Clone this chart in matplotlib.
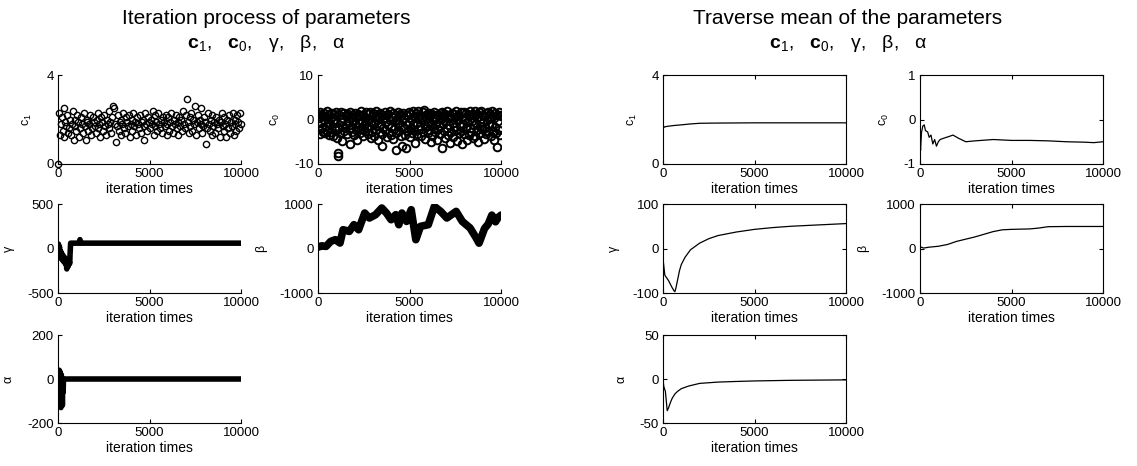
import numpy as np
import matplotlib
matplotlib.use("Agg")
import matplotlib.pyplot as plt

plt.rcParams['font.family'] = ['Liberation Sans', 'DejaVu Sans']
plt.rcParams['mathtext.fontset'] = 'custom'
plt.rcParams['mathtext.rm'] = 'Liberation Sans'
plt.rcParams['mathtext.it'] = 'Liberation Sans:italic'
plt.rcParams['mathtext.bf'] = 'Liberation Sans:bold'
plt.rcParams['axes.unicode_minus'] = False

# ---- iteration process (samples) ----
c1_samples = [
    0.0, 2.3, 1.3, 1.8, 2.1, 1.5, 2.5, 1.2, 1.9, 1.7, 2.2, 1.4, 1.6, 2.0, 1.3, 1.8, 2.4, 1.1, 1.7, 2.0,
    1.5, 2.2, 1.9, 1.2, 1.6, 2.1, 1.8, 1.4, 2.3, 1.7, 1.1, 1.9, 2.0, 1.5, 1.8, 2.2, 1.3, 1.6, 2.1, 1.9,
    1.7, 1.4, 2.0, 2.3, 1.6, 1.8, 1.2, 2.1, 1.9, 1.5, 2.2, 1.7, 1.3, 2.0, 1.8, 2.4, 1.6, 1.9, 1.4, 2.1,
    2.6, 2.5, 1.8, 1.0, 1.7, 2.2, 1.5, 1.9, 2.0, 1.3, 1.8, 2.3, 1.6, 1.4, 2.1, 1.9, 1.7, 2.2, 1.2, 1.8,
    2.0, 1.5, 2.3, 1.7, 1.9, 1.3, 2.1, 1.8, 1.6, 2.2, 1.4, 1.9, 2.0, 1.7, 1.1, 2.3, 1.8, 1.5, 2.1, 1.9,
    1.6, 2.0, 1.8, 2.4, 1.3, 1.7, 2.2, 1.9, 1.5, 2.3, 1.8, 1.6, 2.0, 1.4, 2.1, 1.9, 1.7, 2.2, 1.3, 1.8,
    2.1, 1.5, 1.9, 2.3, 1.7, 1.4, 2.0, 1.8, 2.2, 1.6, 1.9, 1.3, 2.1, 1.7, 2.0, 1.5, 2.4, 1.8, 1.6, 2.2,
    2.9, 1.9, 1.4, 2.1, 1.7, 2.3, 1.5, 2.0, 1.8, 2.6, 1.3, 1.9, 2.2, 1.6, 2.0, 1.8, 2.5, 1.4, 1.7, 2.1,
    1.9, 0.9, 1.6, 2.3, 1.8, 1.5, 2.0, 1.3, 2.2, 1.7, 1.9, 1.4, 2.1, 1.8, 1.6, 2.0, 1.2, 1.9, 2.3, 1.7,
    1.5, 2.1, 1.8, 1.2, 2.0, 1.6, 2.2, 1.4, 1.9, 1.7, 2.3, 1.3, 1.8, 2.0, 1.5, 2.2, 1.9, 1.6, 2.3, 1.8,
]

c0_samples = [
    1.2, -2.1, 0.4, -3.3, 1.6, -0.8, -1.9, 0.9, -2.7, 1.4, -0.2, -3.0, 0.7, -1.4, 1.8, -2.5, -0.5, 1.1, -3.4, 0.2,
    -1.1, 1.5, -2.8, 0.6, -0.3, -3.6, 1.3, -1.7, 0.0, -2.3, 1.7, -4.2, -7.6, -8.3, -2.0, 1.0, -3.1, -0.6, 1.6, -1.5,
    -4.8, 0.3, -2.6, 1.4, -2.0, -1.2, 0.9, 0.8, -3.2, 1.2, -0.4, -2.2, 1.7, -5.6, -1.8, 0.5, -2.9, 1.1, -0.1, -3.5,
    1.5, -1.0, -2.4, 0.6, -4.5, 1.3, -1.6, -0.7, 0.9, -3.0, 1.8, -2.1, -0.3, 1.0, -3.8, -1.3, 0.4, -2.6, 1.6, -0.8,
    -2.0, 1.2, -3.3, 0.1, -1.5, 1.7, -4.1, -0.5, 0.8, -2.7, 1.4, -1.1, -3.6, 0.5, 1.9, -2.3, -0.2, 1.0, -4.6, -1.4,
    0.7, -2.9, 1.5, -0.9, -6.0, -3.2, 1.1, -1.8, 0.3, -2.4, 1.6, -0.6, -3.9, 0.9, -1.2, 1.3, -2.8, -0.1, 1.8, -3.5,
    -1.7, 0.6, -4.3, 1.4, -2.2, -0.4, 1.0, -3.1, -6.8, 0.2, -1.0, 1.7, -2.5, -0.7, 1.2, -3.7, 0.8, -1.6, -5.9, 1.5,
    -2.0, 0.4, -3.4, 1.1, -6.4, -1.3, 0.9, -2.6, 1.6, -0.5, -4.0, 1.3, -1.9, 0.1, -3.0, 1.8, -1.1, -2.3, 0.7, -5.3,
    1.4, -0.8, -3.3, 0.5, 1.9, -2.1, -1.4, 1.0, -3.8, 0.3, -0.2, 1.6, -2.7, -1.0, 2.2, -4.4, 0.6, -1.7, 1.2, -3.1,
    -0.6, 1.5, -2.4, 0.8, -5.0, -1.2, 1.3, -3.6, 0.0, -1.9, 1.7, -2.9, 0.4, -0.9, 1.1, -4.7, -2.2, 0.9, -1.5, 1.4,
    -3.2, 0.2, 1.6, -6.3, -1.1, 0.7, -2.6, 1.2, -4.2, -0.4, 1.8, -2.0, 0.5, -3.5, -1.3, 1.0, -5.2, 0.3, -2.8, 1.5,
    -0.7, -3.9, 1.3, -1.6, 0.6, -2.3, 1.9, -4.9, -0.2, 1.1, -3.0, 0.8, -1.4, 1.6, -2.5, -5.4, 0.4, -1.0, 1.7, -3.3,
    0.1, -2.0, 1.4, -4.5, -0.5, 1.0, -3.4, 0.7, -1.8, 2.0, -2.7, -0.3, 1.3, -4.1, 0.9, -1.2, 1.8, -3.7, -0.8, 1.2,
    -2.4, 0.5, -5.1, 1.6, -1.5, -3.0, 0.2, 1.9, -2.2, -0.6, 1.1, -4.3, 0.8, -1.9, 1.5, -3.2, -0.1, 1.7, -2.6, 0.4,
    -1.3, 1.2, -3.6, 0.6, -0.9, 1.8, -2.8, -4.6, 0.3, 1.4, -1.7, -3.1, 0.9, -6.2, -0.4, 1.6, -2.3, 1.0, -3.5, 0.7,
]

gamma_iter = [0, 25, 50, 80, 110, 140, 170, 200, 240, 280, 320, 360, 400, 440, 480, 520, 560, 600, 640, 660, 690,
              1150, 1200, 1250, 1300, 10000]
gamma_vals = [0, 50, -60, 20, -90, -30, -110, -50, -130, -80, -150, -100, -170, -140, -230, -160, -200, -130, -170,
              -60, 60, 60, 100, 60, 60, 60]

beta_iter = [0, 200, 440, 695, 949, 1203, 1371, 1710, 1964, 2218, 2553, 2807, 3147, 3486, 3740, 3994, 4248, 4416,
             4585, 4838, 5092, 5346, 5600, 6025, 6360, 6701, 7041, 7548, 7883, 8310, 8645, 8800, 9100, 9300, 9500,
             9700, 9850, 10000]
beta_vals = [30, 60, 47, 160, 198, 123, 422, 384, 535, 422, 797, 685, 760, 910, 797, 647, 760, 535,
             797, 609, 872, 198, 497, 535, 946, 834, 685, 834, 609, 461, 236, 120, 450, 550, 750,
             600, 700, 750]

alpha_iter = [0, 20, 40, 60, 80, 100, 120, 140, 160, 180, 200, 220, 240, 260, 280, 300, 10000]
alpha_vals = [0, 30, -50, 40, -20, 35, -90, 10, -130, 20, -110, -40, -120, -10, -60, 0, 0]

# ---- traverse (running) means ----
c1m_iter = [0, 50, 150, 300, 600, 1000, 1500, 2000, 3000, 5000, 7000, 10000]
c1m_vals = [1.8, 1.65, 1.68, 1.7, 1.73, 1.76, 1.8, 1.83, 1.84, 1.85, 1.85, 1.85]

c0m_iter = [0, 30, 80, 150, 230, 300, 420, 500, 600, 700, 800, 900, 1000, 1100, 1300, 1600, 1800, 2100, 2500,
            3000, 4000, 5000, 6000, 7000, 8000, 9000, 9500, 10000]
c0m_vals = [-0.45, -0.7, -0.3, -0.15, -0.12, -0.25, -0.28, -0.4, -0.35, -0.55, -0.45, -0.6, -0.5, -0.45, -0.42,
            -0.38, -0.35, -0.42, -0.5, -0.48, -0.45, -0.47, -0.47, -0.48, -0.5, -0.51, -0.52, -0.5]

gm_iter = [0, 20, 100, 200, 300, 400, 500, 600, 650, 700, 800, 900, 1000, 1200, 1500, 2000, 2500, 3000, 3500,
           4000, 5000, 6000, 7000, 8000, 9000, 10000]
gm_vals = [0, -30, -60, -66, -72, -80, -88, -95, -97, -90, -70, -50, -36, -20, -3, 12, 22, 29, 33, 37, 43, 47,
           50, 52, 54, 56]

bm_iter = [0, 200, 500, 1000, 1500, 2000, 2500, 3000, 3500, 4000, 4500, 5000, 6000, 6500, 7000, 8000, 9000, 10000]
bm_vals = [40, 10, 30, 50, 90, 160, 210, 260, 320, 380, 420, 430, 440, 460, 490, 495, 495, 495]

am_iter = [0, 40, 80, 130, 180, 230, 300, 400, 500, 650, 800, 1000, 1400, 2000, 3000, 4000, 5000, 7000, 10000]
am_vals = [0, -8, -11, -14, -25, -36, -33, -27, -22, -17, -14, -11, -8, -5, -3.5, -2.8, -2.2, -1.5, -1]

W, H = 1137, 466
AW = 183
fig = plt.figure(figsize=(W / 100, H / 100), dpi=100)


def make_ax(x0, ytop, ybot, boxed):
    ax = fig.add_axes([x0 / W, 1 - ybot / H, AW / W, (ybot - ytop) / H])
    ax.set_xlim(0, 10000)
    ax.set_xticks([0, 5000, 10000])
    ax.tick_params(direction='in', length=3, width=0.8, labelsize=9.5, pad=3,
                   top=boxed, right=boxed)
    for s in ax.spines.values():
        s.set_linewidth(0.8)
    if not boxed:
        ax.spines['top'].set_visible(False)
        ax.spines['right'].set_visible(False)
    ax.set_xlabel('iteration times', fontsize=10, labelpad=1)
    return ax


def finish(ax, lo, hi, label):
    ax.set_ylim(lo, hi)
    ax.set_yticks(sorted(set([lo, 0, hi])))
    ax.set_ylabel(label, fontsize=9, labelpad=9)


cols_left = [58, 318]
cols_right = [663, 920]
rows = [(75, 164), (204, 293), (335, 423)]
mk = dict(marker='o', ls='none', mfc='none', mec='black', ms=4.5, mew=1.0)

# left group: iteration process
ax = make_ax(cols_left[0], *rows[0], boxed=False)
ax.plot(np.linspace(0, 10000, len(c1_samples)), c1_samples, clip_on=False, **mk)
finish(ax, 0, 4, r'$\mathrm{c}_1$')

ax = make_ax(cols_left[1], *rows[0], boxed=False)
ax.plot(np.linspace(0, 10000, len(c0_samples)), c0_samples, **dict(mk, ms=5.5, mew=1.4))
finish(ax, -10, 10, r'$\mathrm{c}_0$')

ax = make_ax(cols_left[0], *rows[1], boxed=False)
ax.plot(gamma_iter, gamma_vals, color='black', lw=4, solid_joinstyle='round', solid_capstyle='round')
finish(ax, -500, 500, 'γ')

ax = make_ax(cols_left[1], *rows[1], boxed=False)
ax.plot(beta_iter, beta_vals, color='black', lw=5.5, solid_joinstyle='round', solid_capstyle='round')
finish(ax, -1000, 1000, 'β')

ax = make_ax(cols_left[0], *rows[2], boxed=False)
ax.plot(alpha_iter, alpha_vals, color='black', lw=4, solid_joinstyle='round', solid_capstyle='round')
finish(ax, -200, 200, 'α')

# right group: traverse mean
ax = make_ax(cols_right[0], *rows[0], boxed=True)
ax.plot(c1m_iter, c1m_vals, color='black', lw=0.9)
finish(ax, 0, 4, r'$\mathrm{c}_1$')

ax = make_ax(cols_right[1], *rows[0], boxed=True)
ax.plot(c0m_iter, c0m_vals, color='black', lw=0.9)
finish(ax, -1, 1, r'$\mathrm{c}_0$')

ax = make_ax(cols_right[0], *rows[1], boxed=True)
ax.plot(gm_iter, gm_vals, color='black', lw=0.9)
finish(ax, -100, 100, 'γ')

ax = make_ax(cols_right[1], *rows[1], boxed=True)
ax.plot(bm_iter, bm_vals, color='black', lw=0.9)
finish(ax, -1000, 1000, 'β')

ax = make_ax(cols_right[0], *rows[2], boxed=True)
ax.plot(am_iter, am_vals, color='black', lw=0.9)
finish(ax, -50, 50, 'α')

sub = r'$\mathbf{c}_{1}$,   $\mathbf{c}_{0}$,   γ,   β,   α'
fig.text(266 / W, 1 - 19 / H, 'Iteration process of parameters', ha='center', va='center', fontsize=15)
fig.text(266 / W, 1 - 43 / H, sub, ha='center', va='center', fontsize=14)
fig.text(848 / W, 1 - 19 / H, 'Traverse mean of the parameters', ha='center', va='center', fontsize=15)
fig.text(848 / W, 1 - 43 / H, sub, ha='center', va='center', fontsize=14)

fig.savefig('out.png', dpi=100)
